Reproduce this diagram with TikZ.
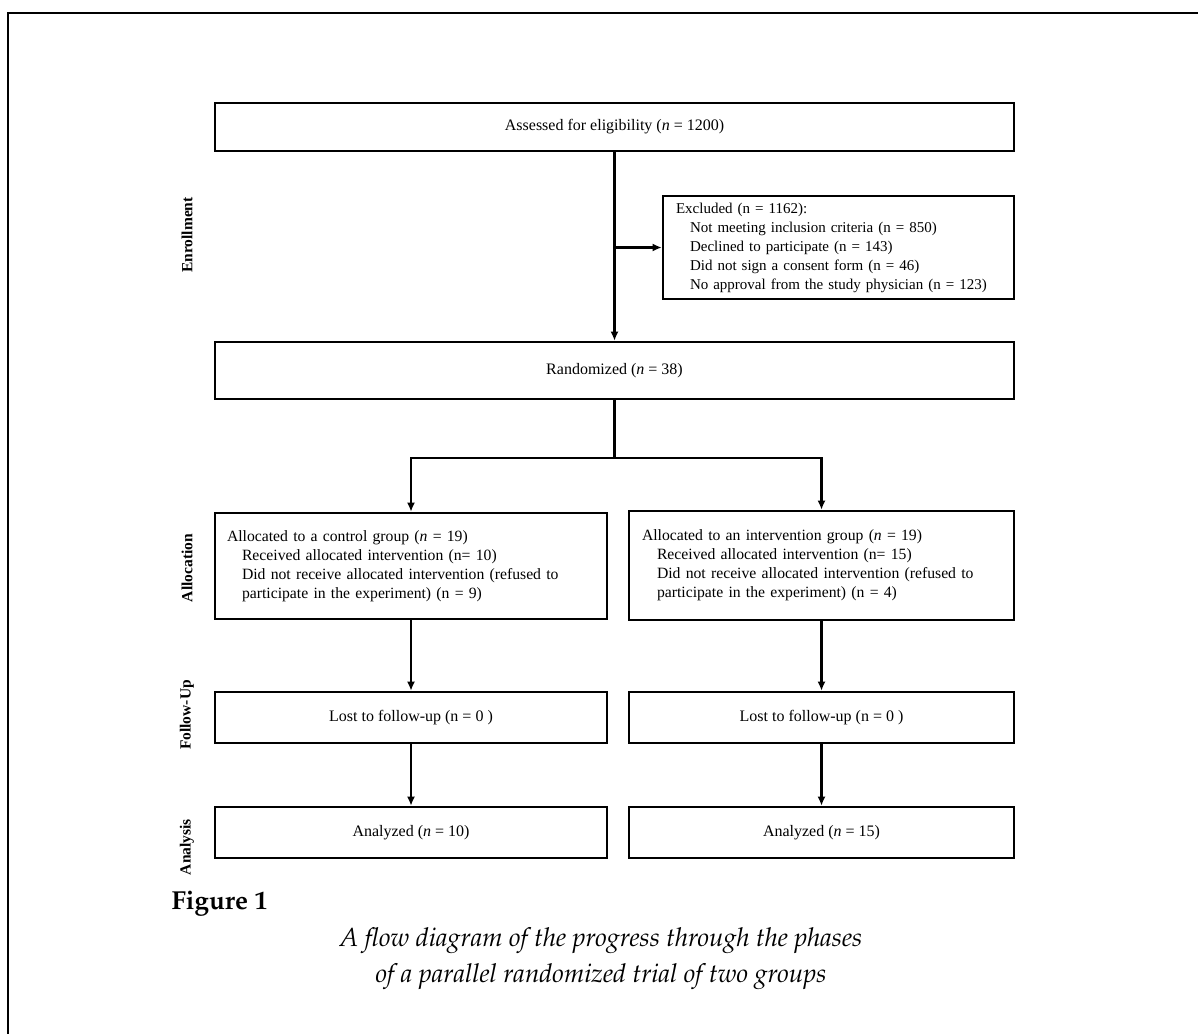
\documentclass[tikz,border=0pt]{standalone}
\usepackage[T1]{fontenc}
\usepackage{fontspec}
\setmainfont{Liberation Serif}
\usetikzlibrary{arrows.meta}
\newcommand{\pplfont}{\fontencoding{T1}\fontfamily{ppl}\selectfont}

\tikzset{
	stage/.style={draw,line width=2.6pt,minimum height=51pt,inner sep=0pt,font=\fontsize{16}{19}\selectfont},
	phase/.style={rotate=90,font=\fontsize{15.5}{19}\selectfont\bfseries},
	link/.style={line width=2.2pt},
	flow/.style={link,-{Latex[length=9pt,width=8pt]}}
}

\begin{document}
\begin{tikzpicture}[x=1pt,y=-1pt]
	\useasboundingbox (0,0) rectangle (1198,1033);
	\clip (0,0) rectangle (1198,1033);
	\draw[line width=2pt] (8,13) rectangle (1240,1070);

	% enrollment
	\node[stage,minimum width=799pt,minimum height=48pt] (assess) at (614.5,127) {Assessed for eligibility (\textit{n} = 1200)};
	\node[stage,minimum width=351pt,minimum height=103pt,align=left,text width=325pt,font=\fontsize{15}{19}\selectfont] (excl) at (838.5,247.5)
		{Excluded (n = 1162):\\
		\hspace*{14pt}Not meeting inclusion criteria (n = 850)\\
		\hspace*{14pt}Declined to participate (n = 143)\\
		\hspace*{14pt}Did not sign a consent form (n = 46)\\
		\hspace*{14pt}No approval from the study physician (n = 123)};
	\node[stage,minimum width=799pt,minimum height=57pt] (rand) at (614.5,370.5) {Randomized (\textit{n} = 38)};

	% allocation
	\node[stage,minimum width=392pt,minimum height=106pt,align=left,text width=368pt,font=\fontsize{15.7}{19}\selectfont] (ctrl) at (411,566)
		{Allocated to a control group (\textit{n} = 19)\\
		\hspace*{15pt}Received allocated intervention (n= 10)\\
		\hspace*{15pt}Did not receive allocated intervention (refused to\\
		\hspace*{15pt}participate in the experiment) (n = 9)};
	\node[stage,minimum width=385pt,minimum height=109pt,align=left,text width=359pt,font=\fontsize{15.7}{19}\selectfont] (intv) at (821.5,565.5)
		{Allocated to an intervention group (\textit{n} = 19)\\
		\hspace*{15pt}Received allocated intervention (n= 15)\\
		\hspace*{15pt}Did not receive allocated intervention (refused to\\
		\hspace*{15pt}participate in the experiment) (n = 4)};

	% follow-up and analysis
	\foreach \grp/\cx/\w/\m in {ctrl/411/392/10,intv/821.5/385/15}{
		\node[stage,minimum width=\w pt] (fu\grp) at (\cx,717.5) {Lost to follow-up (n = 0 )};
		\node[stage,minimum width=\w pt] (an\grp) at (\cx,832.5) {Analyzed (\textit{n} = \m)};
		\draw[flow] (\grp) -- (fu\grp);
		\draw[flow] (fu\grp) -- (an\grp);
	}

	\draw[flow] (assess) -- (rand);
	\draw[flow] (assess.south |- excl.west) -- (excl.west);
	\draw[link] (rand.south) -- ++(0,58) coordinate (split);
	\draw[flow] (split) -| (ctrl.north);
	\draw[flow] (split) -| (intv.north);

	% phases
	\node[phase] (enrol) at (187,235) {Enrollment};
	\node[phase] (alloc) at (187,568) {Allocation};
	\node[phase] (follow) at (187,715) {Follow-Up};
	\node[phase] (analys) at (187,847) {Analysis};

	% caption
	\node[anchor=base west,font=\pplfont\bfseries\fontsize{26}{30}\selectfont] (figlabel) at (168,909) {Figure 1};
	\node[align=center,font=\pplfont\itshape\fontsize{26}{36}\selectfont] (caption) at (601,958.5)
		{A flow diagram of the progress through the phases\\of a parallel randomized trial of two groups};
\end{tikzpicture}
\end{document}
